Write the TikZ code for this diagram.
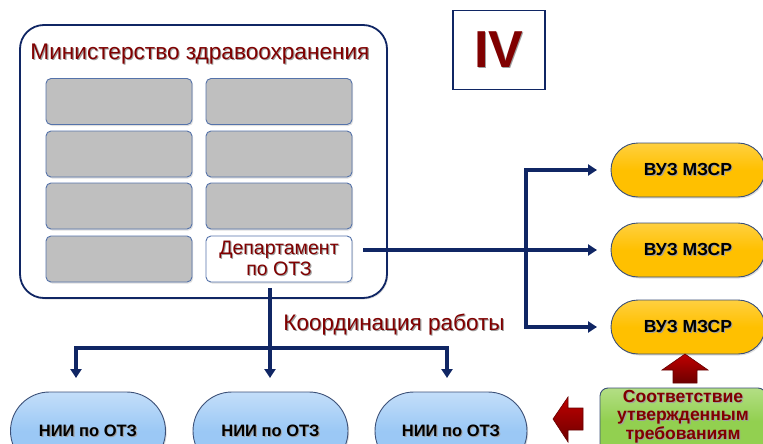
\documentclass[tikz,border=0pt]{standalone}
\usepackage{fontspec}
\setmainfont{Liberation Sans}
\usetikzlibrary{arrows.meta,shadows,calc,shapes.misc}

\definecolor{navy}{RGB}{16,38,100}
\definecolor{wine}{RGB}{128,0,0}
\definecolor{steel}{RGB}{85,115,170}
\definecolor{gold}{RGB}{255,192,0}
\definecolor{sky}{RGB}{155,200,245}
\definecolor{leaf}{RGB}{146,208,80}
\definecolor{boxgray}{RGB}{191,191,191}

% text with a soft grey shadow behind it
\newcommand\shtext[1]{\leavevmode\rlap{\kern1.1pt\raisebox{-1.1pt}{\textcolor{black!38}{#1}}}#1}
\newcommand\fs[1]{\fontsize{#1}{#1}\selectfont}

\begin{document}
\begin{tikzpicture}[x=1pt,y=-1pt,
  softshadow/.style={drop shadow={opacity=0.25,shadow xshift=1.2pt,shadow yshift=-1.5pt}},
  cell/.style={draw=steel,line width=0.9pt,fill=boxgray,rounded corners=5pt,
    minimum width=146pt,minimum height=46pt,inner sep=0pt,outer sep=0pt,softshadow},
  pill/.style={rounded rectangle,draw=steel!70!black,line width=0.9pt,
    minimum width=154pt,minimum height=54pt,inner sep=0pt,outer sep=0pt,softshadow},
  vuz/.style={pill,top color=gold!75!white,bottom color=gold,middle color=gold,
    font=\bfseries\fs{17.5}},
  nii/.style={pill,minimum width=155pt,minimum height=78pt,
    top color=sky!60!white,bottom color=sky,middle color=sky,font=\bfseries\fs{16.5}},
  conn/.style={draw=navy,line width=3.2pt,line join=miter},
  tip/.style={-{Triangle[width=11pt,length=9pt]}},
  bothtips/.style={{Triangle[width=11pt,length=9pt]}-{Triangle[width=11pt,length=9pt]}},
  redarrow/.style={draw=wine!80!black,line width=0.6pt,top color=red!75!black,bottom color=wine!85!black}
]
\useasboundingbox (0,0) rectangle (763,444);
\clip (0,0) rectangle (763,444);

% ministry frame
\node[draw=navy,line width=1.8pt,rounded corners=24pt,fill=white,
  minimum width=367pt,minimum height=273pt,inner sep=0pt,softshadow] (min) at (203.5,161.5) {};
\node[text=wine,font=\fs{22.6}] (title) at (200,55) {\shtext{Министерство здравоохранения}};

% departments grid
\node[cell] (c11) at (119,101.5) {};
\node[cell] (c12) at (279,101.5) {};
\node[cell] (c21) at (119,154) {};
\node[cell] (c22) at (279,154) {};
\node[cell] (c31) at (119,206) {};
\node[cell] (c32) at (279,206) {};
\node[cell] (c41) at (119,259) {};
\node[cell,fill=white,text=wine,align=center,font=\fs{19.5}] (dept) at (279,259)
  {\shtext{Департамент}\\[2pt]\shtext{по ОТЗ}};

% stage number
\node[draw=navy,line width=1.6pt,fill=white,minimum width=92pt,minimum height=79pt,
  inner sep=0pt,text=wine,font=\bfseries\fs{52}] (iv) at (499,50) {\shtext{IV}};

% universities
\node[vuz] (vuz1) at (688,170) {\shtext{ВУЗ МЗСР}};
\node[vuz] (vuz2) at (688,250) {\shtext{ВУЗ МЗСР}};
\node[vuz] (vuz3) at (688,327) {\shtext{ВУЗ МЗСР}};

% research institutes
\node[nii] (nii1) at (88,431) {\shtext{НИИ по ОТЗ}};
\node[nii] (nii2) at (270.5,431) {\shtext{НИИ по ОТЗ}};
\node[nii,minimum width=152pt] (nii3) at (451,431) {\shtext{НИИ по ОТЗ}};

% requirements box
\node[draw=steel!70!black,line width=0.9pt,rounded corners=8pt,
  top color=leaf!70!white,bottom color=leaf,middle color=leaf,
  minimum width=166pt,minimum height=66pt,inner sep=0pt,softshadow] (req) at (683,421) {};
\node[text=wine,align=center,font=\bfseries\fs{17.5}] (reqtext) at (683,417)
  {\shtext{Соответствие}\\[0.5pt]\shtext{утвержденным}\\[0.5pt]\shtext{требованиям}};

% coordination label
\node[text=wine,font=\fs{22.5}] (coord) at (394,325) {\shtext{Координация работы}};

% links to universities
\coordinate (br) at (526,250);
\draw[conn,tip,shorten <=11pt,shorten >=14pt] (dept.east |- vuz2.west) -- (vuz2.west);
\draw[conn,bothtips,shorten <=14pt,shorten >=14pt] (vuz1.west) -| (br) |- (vuz3.west);

% links to institutes
\coordinate (dn) at (270,288);
\coordinate (hb) at (270,348);
\coordinate (a1) at (76,378);
\coordinate (a2) at (270,378);
\coordinate (a3) at (447,378);
\draw[conn,tip] (dn) -- (a2);
\draw[conn,bothtips] (a1) |- (hb) -| (a3);

% block arrows from the requirements box
\path[redarrow] (685,354) -- (708,370) -- (697,370) -- (697,383) -- (673,383)
  -- (673,370) -- (662,370) -- cycle;
\path[redarrow] (553,419) -- (568,397) -- (568,408) -- (583,408) -- (583,430)
  -- (568,430) -- (568,442) -- cycle;
\end{tikzpicture}
\end{document}
